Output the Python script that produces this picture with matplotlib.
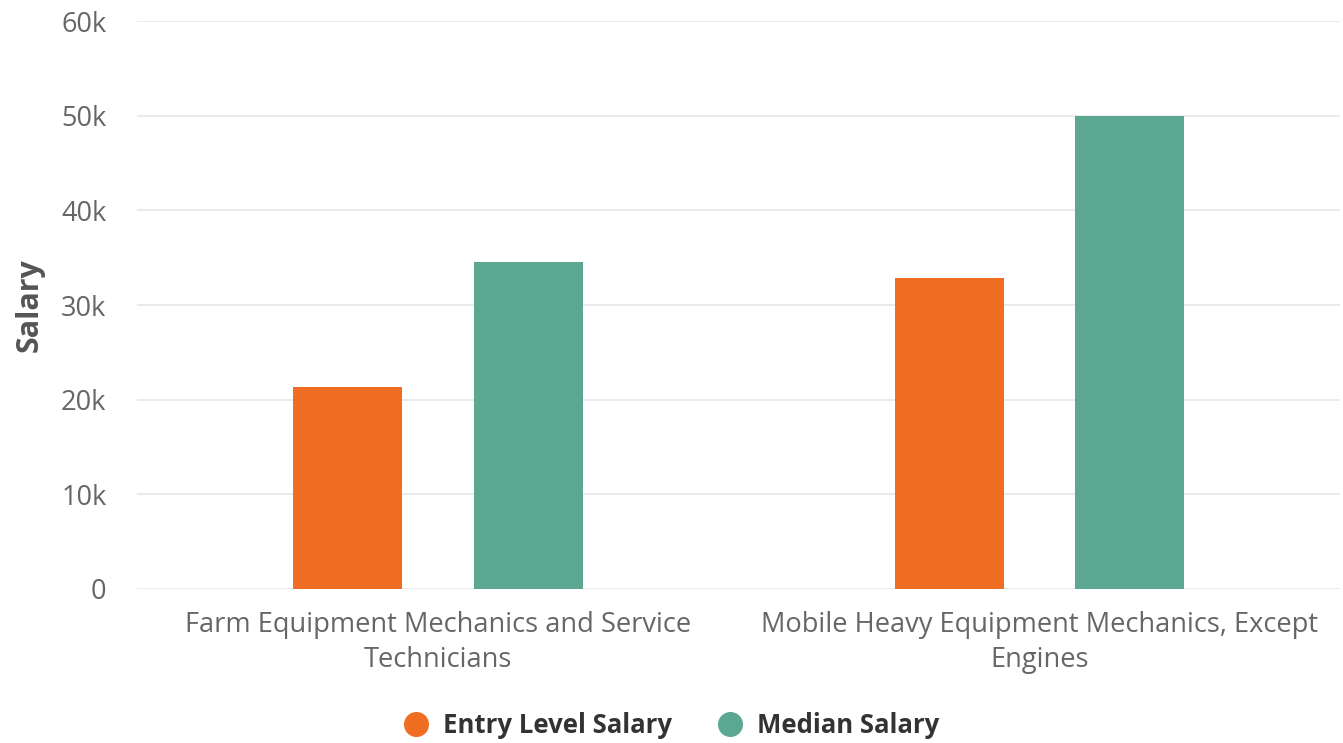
import matplotlib
matplotlib.use("Agg")
import matplotlib.pyplot as plt
from matplotlib.lines import Line2D
import numpy as np

categories = ["Farm Equipment Mechanics and Service\nTechnicians",
              "Mobile Heavy Equipment Mechanics, Except\nEngines"]
series_names = ["Entry Level Salary", "Median Salary"]
entry_level = [21350, 32900]
median = [34500, 50000]
yticks = [0, 10000, 20000, 30000, 40000, 50000, 60000]
ytick_labels = ["0", "10k", "20k", "30k", "40k", "50k", "60k"]
colors = ["#F06E22", "#5BA792"]

plt.rcParams['font.family'] = ['Open Sans', 'DejaVu Sans']

fig = plt.figure(figsize=(13.43, 7.43), dpi=100)
ax = fig.add_axes([0.102, 0.2073, 0.896, 0.7644])

x = np.arange(len(categories))
w = 0.181
off = 0.15
ax.bar(x - off, entry_level, width=w, color=colors[0], zorder=3)
ax.bar(x + off, median, width=w, color=colors[1], zorder=3)

ax.set_xlim(-0.5, 1.5)
ax.set_ylim(0, 60000)
ax.set_yticks(yticks)
ax.set_yticklabels(ytick_labels, fontsize=19.5)
ax.set_xticks(x)
ax.set_xticklabels(categories, linespacing=1.33, fontsize=19.6)
ax.grid(axis='y', color='#e6e6e6', linewidth=1.2, zorder=0)
for s in ax.spines.values():
    s.set_visible(False)
ax.tick_params(axis='both', length=0, colors='#666666')
ax.tick_params(axis='y', pad=22)
ax.tick_params(axis='x', pad=16)
ax.set_ylabel("Salary", fontsize=22, fontweight='bold', color='#555555')
ax.yaxis.set_label_coords(-0.077, 0.5)

handles = [Line2D([0], [0], marker='o', linestyle='', markersize=17,
                  markerfacecolor=c, markeredgecolor=c) for c in colors]
leg = fig.legend(handles, series_names, loc='center', bbox_to_anchor=(0.5, 0.024),
                 ncol=2, frameon=False, handlelength=1.0, handletextpad=0.55,
                 columnspacing=1.75, prop={'weight': 'bold', 'size': 18.5})
for t in leg.get_texts():
    t.set_color('#333333')

fig.savefig("out.png", dpi=100)
